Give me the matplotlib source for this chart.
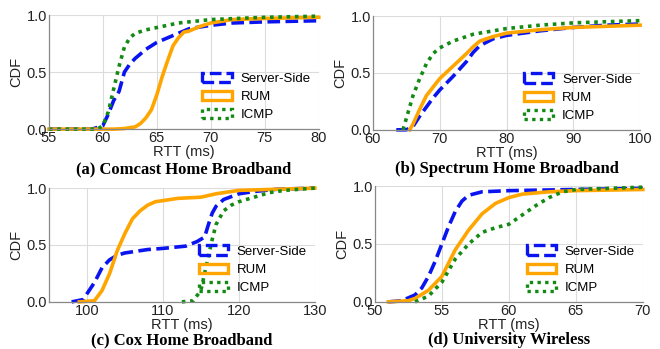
import matplotlib.pyplot as plt
from matplotlib.patches import Patch

plt.rcParams['font.family'] = ['Liberation Sans', 'DejaVu Sans']

# CDF curves: RTT (ms) and cumulative fraction
# (a) Comcast
comcast_server_x = [55, 59, 60, 60.5, 61, 61.5, 62, 62.5, 63, 64, 65, 66, 67, 68, 70, 72, 75, 80]
comcast_server_y = [0, 0.0, 0.03, 0.13, 0.25, 0.33, 0.5, 0.57, 0.62, 0.7, 0.76, 0.8, 0.84, 0.88, 0.91, 0.93, 0.94, 0.95]
comcast_rum_x = [55, 61, 62, 63, 63.5, 64, 64.5, 65, 65.5, 66, 66.5, 67, 67.5, 68, 69, 70, 72, 75, 80]
comcast_rum_y = [0, 0, 0.005, 0.02, 0.05, 0.1, 0.17, 0.3, 0.46, 0.6, 0.73, 0.8, 0.85, 0.86, 0.9, 0.93, 0.96, 0.97, 0.98]
comcast_icmp_x = [55, 59.5, 60, 60.5, 61, 61.5, 62, 62.5, 63, 64, 65, 67, 70, 75, 80]
comcast_icmp_y = [0, 0, 0.03, 0.15, 0.35, 0.55, 0.72, 0.8, 0.84, 0.87, 0.89, 0.93, 0.96, 0.98, 0.99]

# (b) Spectrum
spectrum_server_x = [63.5, 65, 66, 67, 68, 69, 70, 72, 74, 75, 76, 78, 80, 85, 90, 95, 100]
spectrum_server_y = [0, 0, 0.03, 0.12, 0.2, 0.28, 0.35, 0.47, 0.6, 0.68, 0.74, 0.8, 0.83, 0.87, 0.9, 0.92, 0.93]
spectrum_rum_x = [65.5, 66, 67, 68, 70, 72, 74, 75, 76, 78, 80, 85, 90, 95, 100]
spectrum_rum_y = [0, 0.05, 0.18, 0.3, 0.45, 0.56, 0.67, 0.73, 0.78, 0.82, 0.85, 0.88, 0.9, 0.91, 0.92]
spectrum_icmp_x = [64.5, 65, 66, 67, 68, 69, 70, 72, 75, 80, 85, 90, 95, 100]
spectrum_icmp_y = [0, 0.1, 0.3, 0.45, 0.58, 0.67, 0.72, 0.78, 0.84, 0.89, 0.92, 0.94, 0.95, 0.96]

# (c) Cox
cox_server_x = [98, 99.5, 100, 101, 102, 103, 104, 105, 108, 110, 113, 114.5, 115.5, 116, 116.5, 117, 118, 120, 122, 125, 130]
cox_server_y = [0, 0.02, 0.07, 0.17, 0.3, 0.37, 0.41, 0.43, 0.46, 0.47, 0.49, 0.53, 0.57, 0.68, 0.78, 0.84, 0.9, 0.95, 0.97, 0.99, 1.0]
cox_rum_x = [99, 101, 102, 103, 104, 105, 106, 107, 108, 109, 110, 112, 115, 117, 120, 125, 130]
cox_rum_y = [0, 0.01, 0.1, 0.25, 0.45, 0.6, 0.73, 0.8, 0.85, 0.88, 0.89, 0.91, 0.92, 0.95, 0.98, 0.99, 1.0]
cox_icmp_x = [112.5, 114, 115, 116, 116.5, 117, 118, 119, 120, 122, 124, 126, 130]
cox_icmp_y = [0, 0.01, 0.1, 0.4, 0.55, 0.68, 0.8, 0.85, 0.88, 0.92, 0.96, 0.98, 1.0]

# (d) University wireless
univ_server_x = [51, 52, 53, 53.5, 54, 54.5, 55, 55.5, 56, 56.5, 57, 58, 60, 65, 70]
univ_server_y = [0, 0.01, 0.06, 0.12, 0.22, 0.35, 0.5, 0.65, 0.78, 0.87, 0.92, 0.95, 0.96, 0.97, 0.98]
univ_rum_x = [51, 52.5, 53, 54, 55, 56, 57, 58, 59, 60, 61, 63, 65, 70]
univ_rum_y = [0, 0.01, 0.03, 0.1, 0.22, 0.45, 0.62, 0.76, 0.85, 0.9, 0.93, 0.95, 0.96, 0.97]
univ_icmp_x = [53, 54, 55, 56, 57, 58, 59, 60, 61, 62, 63, 64, 65, 70]
univ_icmp_y = [0, 0.05, 0.17, 0.37, 0.5, 0.6, 0.64, 0.67, 0.75, 0.83, 0.9, 0.95, 0.97, 0.99]

captions = ['(a) Comcast Home Broadband', '(b) Spectrum Home Broadband',
            '(c) Cox Home Broadband', '(d) University Wireless']
series_names = ['Server-Side', 'RUM', 'ICMP']

panels = [
    ([comcast_server_x, comcast_rum_x, comcast_icmp_x],
     [comcast_server_y, comcast_rum_y, comcast_icmp_y], (55, 80), [55, 60, 65, 70, 75, 80]),
    ([spectrum_server_x, spectrum_rum_x, spectrum_icmp_x],
     [spectrum_server_y, spectrum_rum_y, spectrum_icmp_y], (60, 100), [60, 70, 80, 90, 100]),
    ([cox_server_x, cox_rum_x, cox_icmp_x],
     [cox_server_y, cox_rum_y, cox_icmp_y], (95, 130), [100, 110, 120, 130]),
    ([univ_server_x, univ_rum_x, univ_icmp_x],
     [univ_server_y, univ_rum_y, univ_icmp_y], (50, 70), [50, 55, 60, 65, 70]),
]

colors = ['#0a14f0', '#ffa500', '#138a13']
styles = [(0, (3.5, 1.5)), '-', (0, (1, 1.3))]

# axes boxes in figure fraction [left, bottom, width, height]
boxes = [
    [0.074, 0.630, 0.409, 0.327],
    [0.565, 0.628, 0.405, 0.326],
    [0.074, 0.135, 0.403, 0.326],
    [0.568, 0.135, 0.406, 0.332],
]
caption_y = [0.516, 0.516, 0.025, 0.025]

fig = plt.figure(figsize=(6.6, 3.49), dpi=100)

for k, (xs, ys, xlim, xticks) in enumerate(panels):
    ax = fig.add_axes(boxes[k])
    for x, y, c, ls in zip(xs, ys, colors, styles):
        ax.plot(x, y, color=c, linestyle=ls, linewidth=2.6, clip_on=False)
    ax.set_xlim(*xlim)
    ax.set_ylim(0, 1.0)
    ax.set_xticks(xticks)
    ax.set_yticks([0, 0.5, 1.0])
    ax.set_yticklabels(['0.0', '0.5', '1.0'])
    ax.tick_params(length=0, labelsize=10.5, pad=1.5, colors='#222222')
    ax.grid(True, color='#dcdcdc', linewidth=0.8)
    ax.set_axisbelow(True)
    for side in ['top', 'right']:
        ax.spines[side].set_visible(False)
    for side in ['left', 'bottom']:
        ax.spines[side].set_color('#888888')
        ax.spines[side].set_linewidth(0.9)
    ax.set_ylabel('CDF', fontsize=10.5, labelpad=2, color='#222222')
    ax.set_xlabel('RTT (ms)', fontsize=10.5, labelpad=0, color='#222222')

    handles = [Patch(facecolor='none', edgecolor=c, linestyle=ls, linewidth=2.4)
               for c, ls in zip(colors, styles)]
    ax.legend(handles, series_names, loc='lower right', frameon=False, fontsize=9.5,
              handlelength=2.2, handleheight=0.7, handletextpad=0.7,
              labelspacing=0.45, borderaxespad=0.2)

    bx = boxes[k]
    fig.text(bx[0] + bx[2] / 2, caption_y[k], captions[k], ha='center', va='center',
             fontsize=12, fontweight='bold', family=['Liberation Serif', 'DejaVu Serif'])

fig.savefig('out.png', dpi=100)
